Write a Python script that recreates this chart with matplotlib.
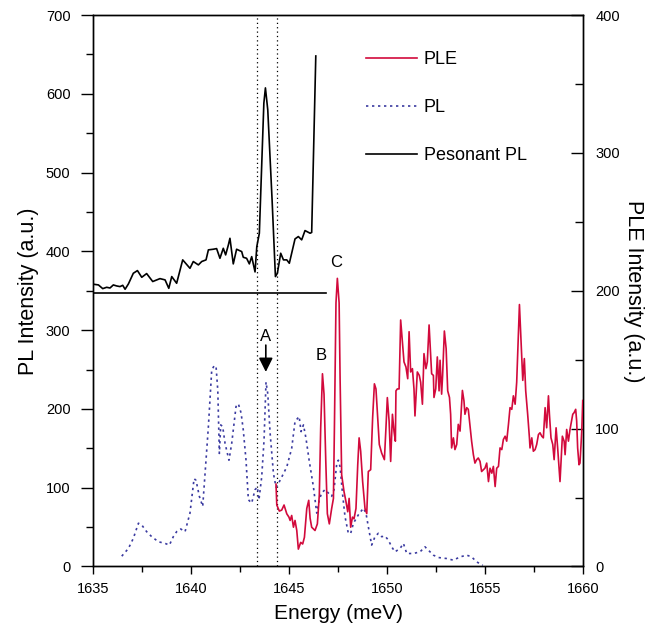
import matplotlib

matplotlib.use("Agg")
import matplotlib.pyplot as plt
from matplotlib.lines import Line2D
from matplotlib.ticker import MultipleLocator

plt.rcParams["font.family"] = ["Liberation Sans", "DejaVu Sans"]

RED = "#d20a3c"
BLUE = "#3a3aa0"

# Resonant PL (left axis)
res_x = [1635.00, 1635.26, 1635.48, 1635.68, 1635.85, 1636.02, 1636.19, 1636.36,
         1636.50, 1636.62, 1636.79, 1637.04, 1637.25, 1637.47, 1637.72, 1638.03,
         1638.40, 1638.66, 1638.85, 1639.00, 1639.25, 1639.56, 1639.93, 1640.10,
         1640.36, 1640.53, 1640.75, 1640.87, 1641.12, 1641.29, 1641.46, 1641.63,
         1641.75, 1641.89, 1641.97, 1642.14, 1642.31, 1642.57, 1642.65, 1642.82,
         1642.96, 1643.08, 1643.25, 1643.34, 1643.47, 1643.70, 1643.78, 1643.90,
         1644.12, 1644.29, 1644.39, 1644.56, 1644.70, 1644.87, 1645.00, 1645.29,
         1645.46, 1645.63, 1645.80, 1646.06, 1646.14, 1646.35]
res_y = [358.3, 357.4, 352.7, 354.4, 353.5, 357.4, 356.1, 355.3, 356.9, 351.9,
         358.7, 372.2, 375.6, 367.1, 371.8, 361.7, 365.4, 363.8, 353.1, 368.0,
         359.5, 389.2, 378.5, 387.1, 382.8, 387.1, 389.2, 401.9, 402.7, 403.5,
         391.2, 403.9, 395.5, 408.2, 416.6, 384.1, 402.7, 399.7, 392.5, 391.2,
         384.1, 393.3, 373.9, 406.0, 423.0, 588.1, 607.5, 579.5, 465.3, 368.0,
         372.2, 397.6, 389.2, 389.2, 384.9, 415.8, 418.8, 414.6, 426.4, 423.0,
         424.0, 648.0]

# PL (left axis)
pl_x = [1636.45, 1636.79, 1637.04, 1637.30, 1637.47, 1637.72, 1637.98, 1638.32,
        1638.66, 1638.88, 1639.08, 1639.25, 1639.46, 1639.68, 1639.93, 1640.14,
        1640.24, 1640.41, 1640.58, 1640.70, 1640.87, 1641.04, 1641.16, 1641.26,
        1641.35, 1641.43, 1641.50, 1641.60, 1641.72, 1641.92, 1642.06, 1642.28,
        1642.40, 1642.54, 1642.65, 1642.79, 1642.91, 1643.08, 1643.25, 1643.37,
        1643.45, 1643.59, 1643.71, 1643.81, 1643.90, 1644.02, 1644.19, 1644.32,
        1644.44, 1644.70, 1644.87, 1645.12, 1645.29, 1645.50, 1645.60, 1645.72,
        1645.85, 1646.01, 1646.23, 1646.40, 1646.53, 1646.65, 1646.82, 1646.99,
        1647.16, 1647.28, 1647.42, 1647.50, 1647.59, 1647.71, 1647.84, 1648.01,
        1648.13, 1648.27, 1648.52, 1648.78, 1648.91, 1649.03, 1649.20, 1649.37,
        1649.54, 1649.71, 1649.88, 1650.05, 1650.22, 1650.39, 1650.65, 1650.82,
        1650.99, 1651.33, 1651.67, 1651.92, 1652.09, 1652.35, 1652.60, 1653.03,
        1653.37, 1653.71, 1654.05, 1654.30, 1654.56, 1654.87]
pl_y = [13.1, 22.9, 35.7, 54.9, 52.7, 44.2, 37.8, 31.4, 29.3, 27.2, 37.8, 44.2,
        47.6, 44.2, 67.7, 111.5, 109.3, 89.0, 76.2, 117.9, 177.6, 249.1, 254.7,
        254.2, 223.5, 143.5, 179.7, 177.6, 156.3, 134.9, 156.3, 203.0, 206.5,
        194.7, 173.3, 134.9, 84.7, 80.5, 97.5, 100.8, 84.7, 113.6, 160.5, 234.1,
        219.3, 169.1, 117.9, 100.8, 105.1, 117.9, 126.4, 149.9, 184.0, 190.4,
        171.2, 179.7, 162.7, 134.9, 100.8, 67.7, 84.7, 93.3, 97.5, 93.3, 89.0,
        97.5, 130.7, 134.9, 126.4, 93.3, 63.4, 42.1, 42.1, 54.9, 65.5, 74.1,
        67.7, 50.6, 27.2, 37.8, 42.1, 37.8, 38.7, 33.6, 25.0, 18.6, 22.9, 29.3,
        16.5, 16.5, 18.6, 25.0, 20.8, 14.4, 11.4, 10.1, 8.0, 12.2, 14.4, 12.2,
        5.8, 1.6]

# PLE (right axis)
ple_x = [1644.32, 1644.36, 1644.49, 1644.61, 1644.73, 1644.87, 1644.98, 1645.04,
         1645.12, 1645.21, 1645.29, 1645.38, 1645.46, 1645.58, 1645.68, 1645.77,
         1645.89, 1645.99, 1646.06, 1646.14, 1646.31, 1646.43, 1646.53, 1646.60,
         1646.69, 1646.77, 1646.86, 1646.94, 1647.04, 1647.16, 1647.25, 1647.30,
         1647.38, 1647.45, 1647.54, 1647.59, 1647.67, 1647.79, 1647.89, 1647.98,
         1648.05, 1648.13, 1648.22, 1648.30, 1648.40, 1648.49, 1648.56, 1648.64,
         1648.74, 1648.86, 1648.95, 1649.03, 1649.15, 1649.25, 1649.34, 1649.42,
         1649.51, 1649.59, 1649.71, 1649.85, 1649.93, 1650.00, 1650.09, 1650.17,
         1650.26, 1650.34, 1650.41, 1650.44, 1650.51, 1650.60, 1650.68, 1650.77,
         1650.85, 1650.95, 1651.04, 1651.11, 1651.19, 1651.28, 1651.36, 1651.41,
         1651.53, 1651.63, 1651.70, 1651.79, 1651.87, 1651.97, 1652.04, 1652.13,
         1652.26, 1652.35, 1652.38, 1652.47, 1652.55, 1652.64, 1652.69, 1652.77,
         1652.82, 1652.91, 1653.00, 1653.08, 1653.17, 1653.23, 1653.28, 1653.37,
         1653.45, 1653.54, 1653.62, 1653.71, 1653.83, 1653.91, 1653.96, 1654.05,
         1654.13, 1654.22, 1654.30, 1654.39, 1654.47, 1654.56, 1654.64, 1654.73,
         1654.81, 1654.90, 1654.98, 1655.07, 1655.16, 1655.24, 1655.33, 1655.41,
         1655.50, 1655.58, 1655.67, 1655.75, 1655.84, 1655.92, 1656.01, 1656.09,
         1656.18, 1656.26, 1656.35, 1656.43, 1656.52, 1656.60, 1656.69, 1656.74,
         1656.80, 1656.91, 1656.99, 1657.06, 1657.16, 1657.25, 1657.28, 1657.37,
         1657.45, 1657.54, 1657.62, 1657.71, 1657.79, 1657.88, 1657.96, 1658.05,
         1658.13, 1658.22, 1658.27, 1658.35, 1658.44, 1658.51, 1658.61, 1658.69,
         1658.81, 1658.93, 1659.02, 1659.07, 1659.15, 1659.24, 1659.32, 1659.46,
         1659.53, 1659.61, 1659.66, 1659.71, 1659.78, 1659.83, 1659.92, 1659.97]
ple_y = [59.7, 44.6, 40.2, 40.9, 44.6, 38.2, 35.8, 33.4, 37.0, 28.5, 33.4, 26.1,
         12.6, 17.5, 16.3, 21.2, 42.1, 48.0, 35.0, 28.5, 26.1, 30.9, 51.9, 100.6,
         139.8, 125.0, 76.2, 38.3, 30.9, 42.1, 49.4, 100.6, 191.2, 209.0, 191.2,
         136.2, 66.5, 54.3, 47.0, 39.7, 49.4, 28.5, 35.8, 34.6, 42.1, 73.8, 93.3,
         83.6, 61.6, 42.1, 38.4, 68.9, 70.2, 107.9, 132.5, 128.8, 107.9, 88.5,
         82.3, 77.5, 100.6, 122.5, 105.5, 76.2, 110.4, 98.2, 90.9, 127.4, 128.8,
         128.8, 178.8, 163.0, 148.4, 144.7, 136.2, 170.3, 141.1, 143.5, 128.8,
         109.2, 141.1, 138.6, 133.7, 117.7, 154.4, 143.5, 148.4, 175.2, 139.8,
         138.6, 122.6, 128.9, 152.0, 127.4, 149.6, 125.0, 138.6, 170.8, 158.1,
         127.4, 122.6, 110.4, 86.0, 93.3, 84.8, 88.5, 103.1, 98.2, 127.7, 120.1,
         110.4, 115.2, 114.0, 101.8, 90.9, 81.1, 75.0, 77.5, 78.7, 76.2, 68.9,
         70.2, 71.3, 75.0, 61.6, 71.3, 67.7, 72.6, 58.0, 71.3, 72.6, 86.0, 84.8,
         92.1, 94.5, 90.9, 103.1, 115.2, 114.0, 123.8, 117.7, 133.7, 170.3, 190.0,
         170.3, 135.0, 150.8, 127.4, 110.4, 93.3, 86.0, 93.3, 83.6, 84.8, 88.5,
         95.7, 97.0, 94.5, 93.3, 115.2, 100.6, 123.8, 110.4, 93.3, 88.5, 77.5,
         100.6, 86.0, 61.6, 94.5, 90.9, 81.1, 99.4, 90.9, 99.4, 110.4, 111.6,
         114.0, 105.5, 86.0, 73.8, 75.0, 98.2, 120.4]

# reference markers
vlines_x = [1643.35, 1644.35]
hline_y = 347.0
hline_x = [1635.0, 1646.85]
marks = [("A", 1643.8, 291.6), ("B", 1646.65, 268.4), ("C", 1647.38, 386.4)]
arrow_x, arrow_tail, arrow_tip = 1643.8, 281.0, 247.0

fig = plt.figure(figsize=(6.61, 6.23), dpi=100)
ax = fig.add_axes([0.1412, 0.0907, 0.8825 - 0.1412, 0.9759 - 0.0907])
ax2 = ax.twinx()

ax.plot(pl_x, pl_y, color=BLUE, lw=1.2, ls=(0, (1.4, 2.2)), zorder=2)
ax.plot(res_x, res_y, color="black", lw=1.2, zorder=3)
ax.plot(hline_x, [hline_y, hline_y], color="black", lw=1.2, zorder=3)
for vx in vlines_x:
    ax.axvline(vx, color="black", lw=0.9, ls=(0, (1, 2.5)), zorder=1)
ax2.plot(ple_x, ple_y, color=RED, lw=1.2, zorder=3)

for label, tx, ty in marks:
    ax.text(tx, ty, label, ha="center", va="center", fontsize=12)
ax.annotate("", xy=(arrow_x, arrow_tip), xytext=(arrow_x, arrow_tail),
            arrowprops=dict(arrowstyle="-|>", color="black", lw=1.2,
                            mutation_scale=21, shrinkA=0, shrinkB=0))

ax.set_xlim(1635, 1660)
ax.set_ylim(0, 700)
ax2.set_ylim(0, 400)

ax.xaxis.set_major_locator(MultipleLocator(5))
ax.xaxis.set_minor_locator(MultipleLocator(2.5))
ax.yaxis.set_major_locator(MultipleLocator(100))
ax.yaxis.set_minor_locator(MultipleLocator(50))
ax2.yaxis.set_major_locator(MultipleLocator(100))
ax2.yaxis.set_minor_locator(MultipleLocator(50))

ax.tick_params(axis="y", which="major", direction="out", length=8.4, width=1.0,
               pad=8, labelsize=10.5)
ax.tick_params(axis="y", which="minor", direction="out", length=5, width=1.0)
ax.tick_params(axis="x", which="major", direction="out", length=6, width=1.0,
               pad=5, labelsize=10.5)
ax.tick_params(axis="x", which="minor", direction="out", length=4, width=1.0)
ax2.tick_params(axis="y", which="major", direction="in", length=8.4, width=1.0,
                pad=8.6, labelsize=10.5)
ax2.tick_params(axis="y", which="minor", direction="in", length=5.8, width=1.0)

for a in (ax, ax2):
    for sp in a.spines.values():
        sp.set_linewidth(1.0)

ax.set_xlabel("Energy (meV)", fontsize=15, labelpad=6)
ax.set_ylabel("PL Intensity (a.u.)", fontsize=15.5, labelpad=5)
ax2.set_ylabel("PLE Intensity (a.u.)", fontsize=15.5, rotation=270, labelpad=17)

handles = [
    Line2D([], [], color=RED, lw=1.2, label="PLE"),
    Line2D([], [], color=BLUE, lw=1.2, ls=(0, (1.4, 2.2)), label="PL"),
    Line2D([], [], color="black", lw=1.2, label="Pesonant PL"),
]
ax2.legend(handles=handles, loc="upper left", bbox_to_anchor=(0.5565, 0.935),
           frameon=False, fontsize=13, borderpad=0, borderaxespad=0,
           handlelength=2.8, handletextpad=0.4, labelspacing=1.72)

fig.savefig("out.png", dpi=100)
